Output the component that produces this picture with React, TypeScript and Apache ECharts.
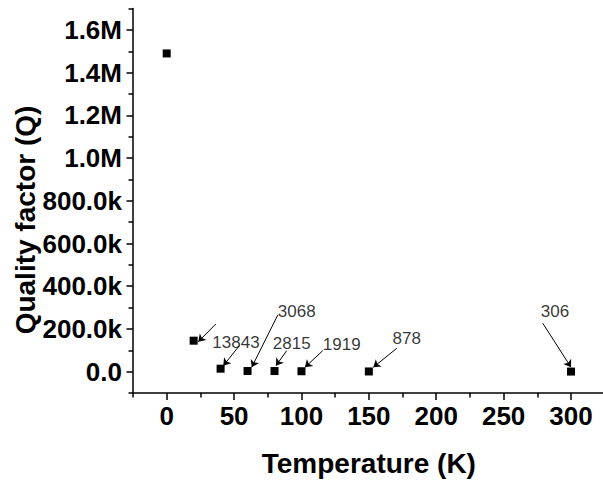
import React, { useEffect, useRef } from "react";
import * as echarts from "echarts";

const temperatures = [0, 20, 40, 60, 80, 100, 150, 300];
const qualityFactors = [1490000, 145000, 13843, 3068, 2815, 1919, 878, 306];

const xTickValues = [0, 50, 100, 150, 200, 250, 300];
const xMinorTickValues = [-25, 25, 75, 125, 175, 225, 275, 325];
const yTickValues = [0, 200000, 400000, 600000, 800000, 1000000, 1200000, 1400000, 1600000];
const yTickLabels = ["0.0", "200.0k", "400.0k", "600.0k", "800.0k", "1.0M", "1.2M", "1.4M", "1.6M"];
const yMinorTickValues = [-100000, 100000, 300000, 500000, 700000, 900000, 1100000, 1300000, 1500000, 1700000];

// annotation arrows (data coordinates): start -> end
const arrowFrom = [[36.4, 222700], [53.9, 121400], [82.4, 264700], [89.0, 98000], [115.8, 98000], [170.7, 109200], [279, 227000]];
const arrowTo = [[23.4, 140000], [42.0, 28000], [63.1, 20500], [81.1, 28000], [102.6, 20500], [153.3, 20500], [300, 20500]];
const annotationTexts = ["13843", "3068", "2815", "1919", "878", "306"];
const annotationPositions = [[51.4, 137000], [96.5, 280000], [92.8, 132600], [129.9, 129300], [178.1, 155900], [288.1, 280000]];

const FONT = "Liberation Sans";

export default function App() {
  const ref = useRef<HTMLDivElement>(null);
  useEffect(() => {
    if (!ref.current) return;
    const chart = echarts.init(ref.current, null, { renderer: "svg" });
    const boldText = { fontSize: 26, fontWeight: "bold", fontFamily: FONT, color: "#000" };
    const tickStyle = { color: "#000", width: 1.5 };
    const xRange = { type: "value", min: -25, max: 325, position: "bottom", splitLine: { show: false } };
    const yRange = { type: "value", min: -100000, max: 1700000, position: "left", splitLine: { show: false } };
    const tickAxis = (range: any, values: number[], length: number) => ({
      ...range,
      axisLine: { show: false, onZero: false },
      axisTick: { show: true, length, customValues: values, lineStyle: tickStyle },
      axisLabel: { show: false },
    });
    chart.setOption({
      animation: false,
      grid: { left: 133, top: 8.6, right: 15.3, bottom: 87.9 },
      xAxis: [
        {
          ...xRange,
          axisLine: { show: true, onZero: false, lineStyle: tickStyle },
          axisTick: { show: false },
          axisLabel: { customValues: xTickValues, margin: 10, ...boldText },
          name: "Temperature (K)", nameLocation: "middle", nameGap: 56,
          nameTextStyle: { ...boldText, fontSize: 28 },
        },
        tickAxis(xRange, xTickValues, 7),
        tickAxis(xRange, xMinorTickValues, 4.5),
      ],
      yAxis: [
        {
          ...yRange,
          axisLine: { show: true, onZero: false, lineStyle: tickStyle },
          axisTick: { show: false },
          axisLabel: {
            customValues: yTickValues, margin: 11, ...boldText,
            formatter: (v: number) => yTickLabels[yTickValues.indexOf(v)] ?? "",
          },
        },
        tickAxis(yRange, yTickValues, 6.5),
        tickAxis(yRange, yMinorTickValues, 4.5),
      ],
      graphic: [
        {
          type: "text", x: 25, y: 220, rotation: Math.PI / 2,
          style: { text: "Quality factor (Q)", fontSize: 28, fontWeight: "bold", fontFamily: FONT, fill: "#000", align: "center", verticalAlign: "middle" },
        },
      ],
      series: [
        {
          type: "scatter", xAxisIndex: 0, yAxisIndex: 0,
          symbol: "rect", symbolSize: 8,
          itemStyle: { color: "#000", opacity: 1 },
          data: temperatures.map((t, i) => [t, qualityFactors[i]]),
          markLine: {
            silent: true, animation: false,
            symbol: ["none", "arrow"], symbolSize: 7,
            lineStyle: { color: "#000", width: 1, type: "solid", opacity: 1 },
            itemStyle: { color: "#000" },
            label: { show: false },
            data: arrowFrom.map((s, i) => [{ coord: s }, { coord: arrowTo[i] }]),
          },
        },
        {
          type: "scatter", xAxisIndex: 0, yAxisIndex: 0, silent: true,
          symbolSize: 0,
          label: { show: true, position: "inside", formatter: (p: any) => annotationTexts[p.dataIndex], fontSize: 17, fontFamily: FONT, color: "#000" },
          data: annotationPositions,
        },
      ],
    });
    return () => chart.dispose();
  }, []);
  return (
    <div style={{ position: "fixed", left: 0, top: 0, width: 603, height: 482, overflow: "hidden", background: "#fff" }}>
      <div ref={ref} style={{ width: 620, height: 482 }} />
    </div>
  );
}
